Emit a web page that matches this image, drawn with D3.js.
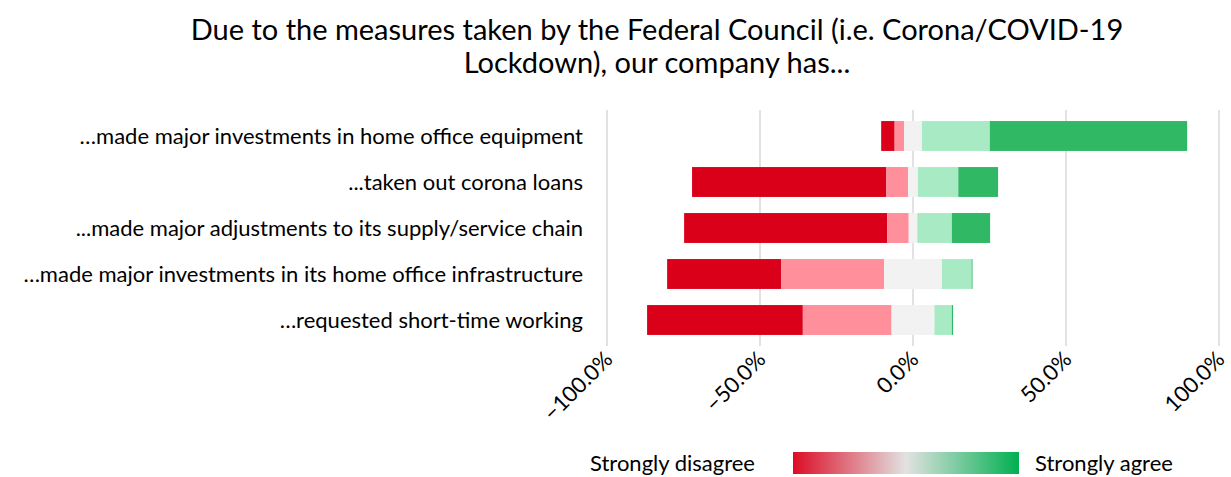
<!DOCTYPE html>
<html>
<head>
<meta charset="utf-8">
<script src="https://cdn.jsdelivr.net/npm/d3@7"></script>
<style>
  body { margin: 0; background: #fff; }
  text { font-family: Lato, "Open Sans", sans-serif; fill: #000; }
</style>
</head>
<body>
<script>
var width = 1231;
var height = 477;

var titleLines = ["Due to the measures taken by the Federal Council (i.e. Corona/COVID-19",
                  "Lockdown), our company has..."];

var categories = [
  "\u2026made major investments in home office equipment",
  "...taken out corona loans",
  "...made major adjustments to its supply/service chain",
  "\u2026made major investments in its home office infrastructure",
  "\u2026requested short-time working"
];

// percentages per answer
var stronglyDisagree = [4.4, 63.5, 66.4, 37.3, 50.9];
var disagree         = [3.1, 7.1, 7.0, 33.6, 29.0];
var neutral          = [5.8, 3.2, 2.8, 18.9, 14.0];
var agree            = [22.2, 13.2, 11.3, 9.7, 5.7];
var stronglyAgree    = [64.5, 13.0, 12.5, 0.3, 0.4];

var tickValues = [-100, -50, 0, 50, 100];
var legendLabels = ["Strongly disagree", "Strongly agree"];

var colors = ["#da0019", "#ff8f9a", "#f2f2f2", "#a8eac4", "#30b864"];

var svg = d3.select('body').append('svg')
      .attr('width', width)
      .attr('height', height);

// title
svg.append('g').selectAll('text')
    .data(titleLines)
    .enter()
    .append('text')
    .attr('x', 657)
    .attr('y', function (d, i) { return 40 + i * 33; })
    .attr('text-anchor', 'middle')
    .style('font-size', '29px')
    .text(function (d) { return d; });

var x = d3.scaleLinear().domain([-100, 100]).range([607, 1219]);
var y = d3.scaleBand().domain(categories).range([113, 343]).paddingInner(0.35).paddingOuter(0.175);

// gridlines
svg.append('g').selectAll('line')
    .data(tickValues)
    .enter()
    .append('line')
    .attr('x1', function (d) { return x(d); })
    .attr('x2', function (d) { return x(d); })
    .attr('y1', 110)
    .attr('y2', 346)
    .attr('stroke', '#d9d9d9')
    .attr('stroke-width', 1.5);

// stacked segments, neutral centred on zero
var rows = categories.map(function (c, i) {
  var vals = [stronglyDisagree[i], disagree[i], neutral[i], agree[i], stronglyAgree[i]];
  var start = -(stronglyDisagree[i] + disagree[i] + neutral[i] / 2);
  var segs = [];
  vals.forEach(function (v, k) {
    segs.push({cat: c, x0: start, x1: start + v, k: k});
    start += v;
  });
  return segs;
});

var g = svg.append('g').selectAll('g')
    .data(rows)
    .enter()
    .append('g');

g.selectAll('rect')
    .data(function (d) { return d; })
    .enter()
    .append('rect')
    .attr('x', function (d) { return x(d.x0); })
    .attr('width', function (d) { return x(d.x1) - x(d.x0); })
    .attr('y', function (d) { return y(d.cat); })
    .attr('height', y.bandwidth())
    .attr('fill', function (d) { return colors[d.k]; });

// category labels
svg.append('g').selectAll('text')
    .data(categories)
    .enter()
    .append('text')
    .attr('x', 583)
    .attr('y', function (d) { return y(d) + y.bandwidth() / 2; })
    .attr('dy', '0.35em')
    .attr('text-anchor', 'end')
    .style('font-size', '22px')
    .text(function (d) { return d; });

// axis tick labels, rotated
var fmt = d3.format('.1f');
svg.append('g').selectAll('text')
    .data(tickValues)
    .enter()
    .append('text')
    .attr('transform', function (d) { return 'translate(' + (x(d) - 4) + ',350) rotate(-45)'; })
    .attr('text-anchor', 'end')
    .attr('dy', '0.7em')
    .style('font-size', '22px')
    .text(function (d) { return fmt(d) + '%'; });

// legend
var defs = svg.append('defs');
var grad = defs.append('linearGradient').attr('id', 'lg');
grad.append('stop').attr('offset', '0%').attr('stop-color', '#dc0d25');
grad.append('stop').attr('offset', '50%').attr('stop-color', '#e2e2e2');
grad.append('stop').attr('offset', '100%').attr('stop-color', '#00b050');

svg.append('rect')
    .attr('x', 793)
    .attr('y', 452)
    .attr('width', 226)
    .attr('height', 22)
    .attr('fill', 'url(#lg)');

svg.append('text')
    .attr('x', 755)
    .attr('y', 463)
    .attr('dy', '0.35em')
    .attr('text-anchor', 'end')
    .style('font-size', '22px')
    .text(legendLabels[0]);

svg.append('text')
    .attr('x', 1035)
    .attr('y', 463)
    .attr('dy', '0.35em')
    .style('font-size', '22px')
    .text(legendLabels[1]);
</script>
</body>
</html>
